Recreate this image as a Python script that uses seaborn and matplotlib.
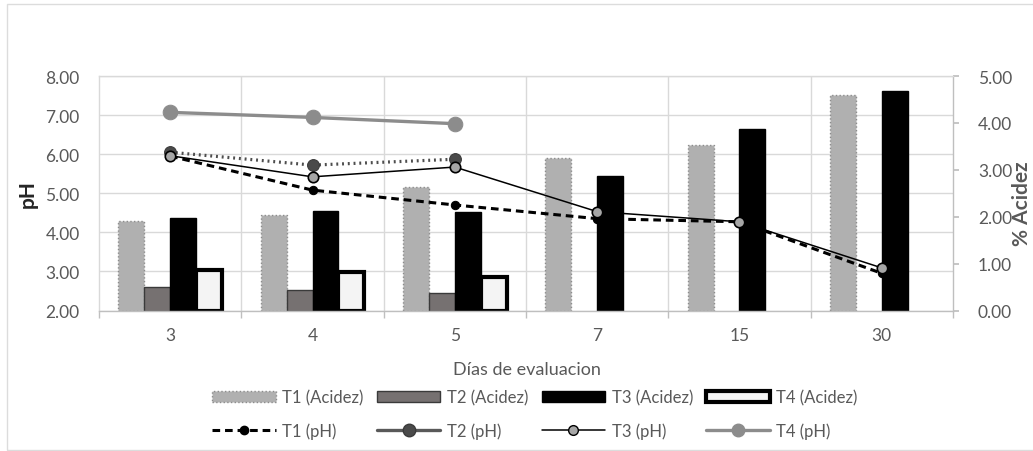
import numpy as np
import pandas as pd
import matplotlib
matplotlib.use('Agg')
import matplotlib.pyplot as plt
import seaborn as sns
from matplotlib.lines import Line2D
from matplotlib.patches import Patch, Rectangle
from matplotlib.ticker import FormatStrFormatter
from matplotlib.transforms import blended_transform_factory

# Datos
days = ['3', '4', '5', '7', '15', '30']
series = ['T1', 'T2', 'T3', 'T4']

acidez_t1 = [1.90, 2.04, 2.64, 3.25, 3.53, 4.59]
acidez_t2 = [0.50, 0.43, 0.38, np.nan, np.nan, np.nan]
acidez_t3 = [1.97, 2.12, 2.09, 2.86, 3.88, 4.69]
acidez_t4 = [0.86, 0.82, 0.71, np.nan, np.nan, np.nan]

ph_t1 = [5.95, 5.08, 4.70, 4.35, 4.27, 2.95]
ph_t2 = [6.05, 5.72, 5.87, np.nan, np.nan, np.nan]
ph_t3 = [5.96, 5.42, 5.67, 4.53, 4.27, 3.09]
ph_t4 = [7.07, 6.94, 6.78, np.nan, np.nan, np.nan]

ph_ticks = [2, 3, 4, 5, 6, 7, 8]
acid_ticks = [0, 1, 2, 3, 4, 5]

sns.set_theme(style='white')
plt.rcParams['font.family'] = ['Lato', 'DejaVu Sans']

gris = '#595959'
grid_col = '#d9d9d9'

df_acid = pd.DataFrame({
    'dia': days * 4,
    'valor': acidez_t1 + acidez_t2 + acidez_t3 + acidez_t4,
    'serie': [s for s in series for _ in days],
}).dropna()

fig = plt.figure(figsize=(10.33, 4.52), dpi=100)
ax = fig.add_axes([99 / 1033, 1 - 311.5 / 452, (953 - 99) / 1033, (311.5 - 77) / 452])

# Barras (% Acidez, eje derecho)
sns.barplot(data=df_acid, x='dia', y='valor', hue='serie', order=days,
            hue_order=series, width=0.73, errorbar=None, saturation=1,
            legend=False, ax=ax)

bar_styles = [
    dict(facecolor='#b0b0b0', edgecolor='#8c8c8c', linewidth=1, linestyle=':'),
    dict(facecolor='#767171', edgecolor='#3a3a3a', linewidth=1, linestyle='-'),
    dict(facecolor='black', edgecolor='black', linewidth=1, linestyle='-'),
    dict(facecolor='#f4f4f4', edgecolor='black', linewidth=3, linestyle='-'),
]
for cont, st in zip(ax.containers, bar_styles):
    for bar in cont:
        bar.set(**st)
        bar.set_zorder(2)

ax.set_xlim(-0.5, len(days) - 0.5)
ax.set_ylim(0, 5)
ax.set_yticks(acid_ticks)
ax.yaxis.set_major_formatter(FormatStrFormatter('%.2f'))
ax.yaxis.tick_right()
ax.set_xlabel('')
ax.set_ylabel('')

# Lineas (pH, eje izquierdo)
ax2 = ax.twinx()
pos = list(range(len(days)))
sns.lineplot(x=pos, y=ph_t1, ax=ax2, color='black', linewidth=2.2,
             linestyle=(0, (2.5, 1.6)), marker='o', markersize=6,
             markerfacecolor='black', markeredgecolor='black')
sns.lineplot(x=pos, y=ph_t2, ax=ax2, color='#4d4d4d', linewidth=2.3,
             linestyle=(0, (0.6, 1.2)), marker='o', markersize=8.5,
             markerfacecolor='#4a4a4a', markeredgecolor='#3a3a3a')
sns.lineplot(x=pos, y=ph_t3, ax=ax2, color='black', linewidth=1.1,
             marker='o', markersize=7.5, markerfacecolor='#a6a6a6',
             markeredgecolor='black', markeredgewidth=1.2)
sns.lineplot(x=pos, y=ph_t4, ax=ax2, color='#8c8c8c', linewidth=2.4,
             marker='o', markersize=10.5, markerfacecolor='#8c8c8c',
             markeredgecolor='#8c8c8c')

ax2.set_ylim(2, 8)
ax2.set_yticks(ph_ticks)
ax2.yaxis.set_major_formatter(FormatStrFormatter('%.2f'))
ax2.yaxis.tick_left()
ax2.set_xlim(-0.5, len(days) - 0.5)
ax2.set_ylabel('')

# Rejilla detras de las barras
trans = blended_transform_factory(ax.transAxes, ax2.transData)
for v in ph_ticks:
    ax.plot([0, 1], [v, v], transform=trans, color=grid_col, lw=1, zorder=0.5)
for i in range(len(days) - 1):
    ax.axvline(i + 0.5, color=grid_col, lw=1, zorder=0.5)
ax.set_xlim(-0.5, len(days) - 0.5)
ax.set_ylim(0, 5)

for sp in ax.spines.values():
    sp.set_color(grid_col)
    sp.set_linewidth(1)
ax.spines['right'].set_color('#bfbfbf')
ax.spines['bottom'].set_color('#bfbfbf')
for sp in ax2.spines.values():
    sp.set_visible(False)

ax.set_xticks(pos)
ax.set_xticklabels(days)
ax.set_xticks([i - 0.5 for i in range(len(days) + 1)], minor=True)
ax.tick_params(axis='x', which='major', length=0, pad=12, labelsize=12.5, labelcolor=gris)
ax.tick_params(axis='x', which='minor', length=5, color='#bfbfbf', bottom=True)
ax.tick_params(axis='y', which='major', right=True, left=False,
               labelright=True, labelleft=False, length=4,
               color='#bfbfbf', pad=14, labelsize=12.5, labelcolor=gris)
ax2.tick_params(axis='y', which='major', left=True, right=False,
                labelleft=True, labelright=False, length=0,
                pad=14, labelsize=12.5, labelcolor=gris)
ax2.tick_params(axis='x', length=0, labelbottom=False)

# Textos
fig.text(28 / 1033, 1 - 194 / 452, 'pH', rotation=90, fontsize=15,
         fontweight='bold', color='#262626', ha='center', va='center')
fig.text(1022 / 1033, 1 - 204 / 452, '% Acidez', rotation=90, fontsize=15,
         fontweight='bold', color=gris, ha='center', va='center')
fig.text(527 / 1033, 1 - 370 / 452, 'Días de evaluacion', fontsize=13,
         color=gris, ha='center', va='center')

# Leyenda
patch_handles = [Patch(**st) for st in bar_styles]
line_handles = [
    Line2D([], [], color='black', lw=2.2, linestyle=(0, (2.5, 1.6)), marker='o', markersize=6),
    Line2D([], [], color='#595959', lw=2.4, marker='o', markersize=9,
           markerfacecolor='#4a4a4a', markeredgecolor='#3a3a3a'),
    Line2D([], [], color='black', lw=1.1, marker='o', markersize=7,
           markerfacecolor='#a6a6a6', markeredgecolor='black'),
    Line2D([], [], color='#8c8c8c', lw=2.4, marker='o', markersize=9,
           markerfacecolor='#8c8c8c', markeredgecolor='#8c8c8c'),
]
handles, labels = [], []
for s, ph, lh in zip(series, patch_handles, line_handles):
    handles += [ph, lh]
    labels += [f'{s} (Acidez)', f'{s} (pH)']
fig.legend(handles, labels, ncol=4, loc='center',
           bbox_to_anchor=(535 / 1033, 1 - 415 / 452), frameon=False,
           fontsize=12, labelcolor=gris, handlelength=3.8, handleheight=0.7,
           handletextpad=0.4, columnspacing=0.8, labelspacing=1.0)

# Borde del area del grafico
fig.add_artist(Rectangle((7 / 1033, 1 / 452), 1.1, 1 - 6 / 452,
                         transform=fig.transFigure, fill=False,
                         edgecolor='#dcdcdc', lw=1))

fig.savefig('out.png', dpi=100)
